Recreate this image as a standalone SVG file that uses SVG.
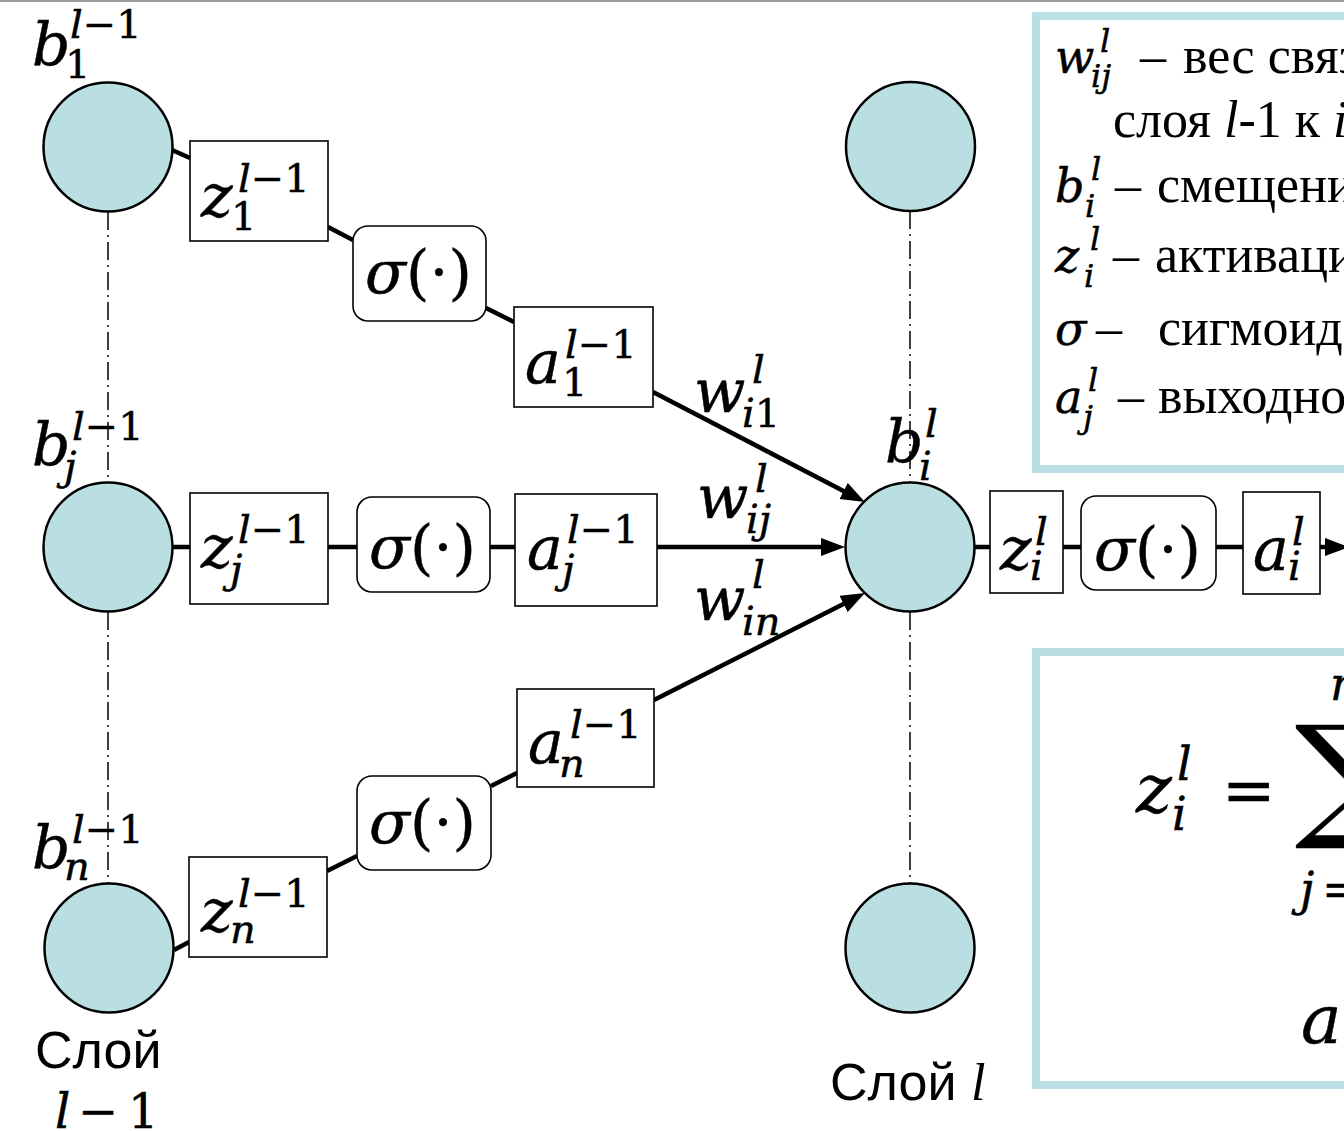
<svg xmlns="http://www.w3.org/2000/svg" width="1344" height="1131" viewBox="0 0 1344 1131">
  <style>
    .neuron { fill: #BADFE3; stroke: #000; stroke-width: 2.5; }
    .box { fill: #fff; stroke: #000; stroke-width: 1.6; }
    .link { stroke: #000; stroke-width: 4.5; fill: none; }
    .dd { stroke: #000; stroke-width: 1.5; stroke-dasharray: 18 5 2 5; fill: none; }
    .panel { fill: #fff; stroke: #BADFE3; stroke-width: 8; }
    .mi { font-family: "DejaVu Serif", "Liberation Serif", serif; font-style: italic; fill: #000; stroke: #000; stroke-width: 0.5; }
    .mu { font-family: "DejaVu Serif", "Liberation Serif", serif; font-style: normal; fill: #000; stroke: #000; stroke-width: 0.4; }
    .big { font-size: 60px; }
    .sc { font-size: 40px; }
    .lg { font-size: 46px; }
    .lgs { font-size: 32px; }
    .fb { font-size: 68px; }
    .fs { font-size: 46px; }
    .rm { font-family: "Liberation Serif", "Times New Roman", serif; font-size: 52px; fill: #000; }
    .rmi { font-family: "Liberation Serif", "Times New Roman", serif; font-style: italic; font-size: 52px; fill: #000; }
    .cap { font-family: "Liberation Sans", Arial, sans-serif; font-size: 52px; fill: #000; }
  </style>
  <defs>
    <marker id="arrow" markerUnits="userSpaceOnUse" markerWidth="26" markerHeight="20" refX="2" refY="9" orient="auto">
      <path d="M0,0 L24,9 L0,18 z" fill="#000"/>
    </marker>
  </defs>

  <rect x="0" y="0" width="1344" height="1131" fill="#fff"/>
  <line x1="0" y1="1" x2="1344" y2="1" stroke="#9a9a9a" stroke-width="2"/>

  <!-- legend panel -->
  <g id="legend">
    <rect class="panel" x="1036" y="16" width="420" height="453"/>
    <text class="mi lg" x="1055" y="73">w</text>
    <text class="mi lgs" x="1100" y="52">l</text>
    <text class="mi lgs" x="1091" y="87">ij</text>
    <text class="rm" x="1140" y="73">–</text>
    <text class="rm" x="1183" y="73">вес связи</text>
    <text class="rm" x="1113" y="137">слоя <tspan class="rmi">l</tspan>-1 к <tspan class="rmi">i</tspan></text>

    <text class="mi lg" x="1055" y="202">b</text>
    <text class="mi lgs" x="1091" y="180">l</text>
    <text class="mi lgs" x="1085" y="217">i</text>
    <text class="rm" x="1115" y="202">–</text>
    <text class="rm" x="1157" y="202">смещение</text>

    <text class="mi lg" x="1055" y="272">z</text>
    <text class="mi lgs" x="1090" y="250">l</text>
    <text class="mi lgs" x="1084" y="287">i</text>
    <text class="rm" x="1113" y="272">–</text>
    <text class="rm" x="1155" y="272">активация</text>

    <text class="mi lg" x="1055" y="345">σ</text>
    <text class="rm" x="1096" y="345">–</text>
    <text class="rm" x="1158" y="345">сигмоида</text>

    <text class="mi lg" x="1055" y="413">a</text>
    <text class="mi lgs" x="1088" y="391">l</text>
    <text class="mi lgs" x="1083" y="428">j</text>
    <text class="rm" x="1118" y="413">–</text>
    <text class="rm" x="1158" y="413">выходное</text>
  </g>

  <!-- formula panel -->
  <g id="formula">
    <rect class="panel" x="1036" y="652" width="420" height="433"/>
    <text class="mi fb" x="1136" y="812">z</text>
    <text class="mi fs" x="1177" y="780">l</text>
    <text class="mi fs" x="1172" y="830">i</text>
    <text class="mu" font-size="64" x="1222" y="812">=</text>
    <text class="mu" font-size="135" x="1295" y="822">∑</text>
    <text class="mi fs" x="1330" y="700">n</text>
    <text class="mi fs" x="1300" y="905">j</text>
    <text class="mu fs" x="1322" y="905">=</text>
    <text class="mi fb" x="1301" y="1043">a</text>
  </g>

  <!-- connectors -->
  <g id="connectors">
    <line class="dd" x1="108" y1="212" x2="108" y2="483"/>
    <line class="dd" x1="108" y1="612" x2="108" y2="884"/>
    <line class="dd" x1="910" y1="211" x2="910" y2="483"/>
    <line class="dd" x1="910" y1="612" x2="910" y2="884"/>

    <line class="link" x1="172" y1="150" x2="190" y2="158"/>
    <line class="link" x1="328" y1="227" x2="353" y2="240"/>
    <line class="link" x1="486" y1="308" x2="514" y2="322"/>
    <line class="link" x1="653" y1="392" x2="845.4" y2="491.9" marker-end="url(#arrow)"/>

    <line class="link" x1="172" y1="547" x2="190" y2="547"/>
    <line class="link" x1="328" y1="547" x2="357" y2="547"/>
    <line class="link" x1="490" y1="547" x2="515" y2="547"/>
    <line class="link" x1="657" y1="547" x2="823" y2="547" marker-end="url(#arrow)"/>

    <line class="link" x1="174" y1="950" x2="189" y2="942"/>
    <line class="link" x1="327" y1="871" x2="357" y2="856"/>
    <line class="link" x1="491" y1="786" x2="517" y2="773"/>
    <line class="link" x1="654" y1="700" x2="845.4" y2="603" marker-end="url(#arrow)"/>

    <line class="link" x1="975" y1="547" x2="990" y2="547"/>
    <line class="link" x1="1063" y1="547" x2="1081" y2="547"/>
    <line class="link" x1="1216" y1="547" x2="1243" y2="547"/>
    <line class="link" x1="1320" y1="547" x2="1327" y2="547" marker-end="url(#arrow)"/>
  </g>

  <!-- layer l-1 neurons -->
  <g id="n1">
    <circle class="neuron" cx="108" cy="147" r="64.5"/>
    <text class="mi big" x="32" y="65">b</text>
    <text class="mu sc" x="65" y="78">1</text>
    <text class="sc" x="70" y="38"><tspan class="mi">l</tspan><tspan class="mu">−1</tspan></text>
  </g>
  <g id="nj">
    <circle class="neuron" cx="108" cy="547" r="64.5"/>
    <text class="mi big" x="32" y="465">b</text>
    <text class="mi sc" x="64" y="480">j</text>
    <text class="sc" x="72" y="440"><tspan class="mi">l</tspan><tspan class="mu">−1</tspan></text>
  </g>
  <g id="nn">
    <circle class="neuron" cx="109" cy="948" r="64.5"/>
    <text class="mi big" x="32" y="868">b</text>
    <text class="mi sc" x="64" y="880">n</text>
    <text class="sc" x="72" y="843"><tspan class="mi">l</tspan><tspan class="mu">−1</tspan></text>
  </g>

  <!-- layer l neurons -->
  <g id="m1"><circle class="neuron" cx="910.5" cy="146.5" r="64.5"/></g>
  <g id="mi">
    <circle class="neuron" cx="910" cy="547" r="64.5"/>
    <text class="mi big" x="885" y="462">b</text>
    <text class="mi sc" x="925" y="437">l</text>
    <text class="mi sc" x="919" y="480">i</text>
  </g>
  <g id="mn"><circle class="neuron" cx="910" cy="948" r="64.5"/></g>

  <!-- row 1 chain -->
  <g id="z1">
    <rect class="box" x="190" y="141" width="138" height="100"/>
    <text class="mi big" x="201" y="217">z</text>
    <text class="mu sc" x="231" y="230">1</text>
    <text class="sc" x="238" y="192"><tspan class="mi">l</tspan><tspan class="mu">−1</tspan></text>
  </g>
  <g id="s1">
    <rect class="box" x="353" y="226" width="133" height="95" rx="15"/>
    <text class="big" x="365" y="293"><tspan class="mi">σ</tspan><tspan class="mu">(·)</tspan></text>
  </g>
  <g id="a1">
    <rect class="box" x="514" y="307" width="139" height="100"/>
    <text class="mi big" x="525" y="383">a</text>
    <text class="mu sc" x="562" y="396">1</text>
    <text class="sc" x="565" y="358"><tspan class="mi">l</tspan><tspan class="mu">−1</tspan></text>
  </g>

  <!-- row j chain -->
  <g id="zj">
    <rect class="box" x="190" y="493" width="138" height="111"/>
    <text class="mi big" x="201" y="568">z</text>
    <text class="mi sc" x="230" y="583">j</text>
    <text class="sc" x="238" y="543"><tspan class="mi">l</tspan><tspan class="mu">−1</tspan></text>
  </g>
  <g id="sj">
    <rect class="box" x="357" y="497" width="133" height="95" rx="15"/>
    <text class="big" x="369" y="568"><tspan class="mi">σ</tspan><tspan class="mu">(·)</tspan></text>
  </g>
  <g id="aj">
    <rect class="box" x="515" y="494" width="142" height="112"/>
    <text class="mi big" x="527" y="569">a</text>
    <text class="mi sc" x="562" y="583">j</text>
    <text class="sc" x="567" y="543"><tspan class="mi">l</tspan><tspan class="mu">−1</tspan></text>
  </g>

  <!-- row n chain -->
  <g id="zn">
    <rect class="box" x="189" y="857" width="138" height="100"/>
    <text class="mi big" x="201" y="932">z</text>
    <text class="mi sc" x="230" y="943">n</text>
    <text class="sc" x="238" y="907"><tspan class="mi">l</tspan><tspan class="mu">−1</tspan></text>
  </g>
  <g id="sn">
    <rect class="box" x="357" y="776" width="134" height="94" rx="15"/>
    <text class="big" x="369" y="843"><tspan class="mi">σ</tspan><tspan class="mu">(·)</tspan></text>
  </g>
  <g id="an">
    <rect class="box" x="517" y="689" width="137" height="98"/>
    <text class="mi big" x="528" y="763">a</text>
    <text class="mi sc" x="559" y="777">n</text>
    <text class="sc" x="570" y="738"><tspan class="mi">l</tspan><tspan class="mu">−1</tspan></text>
  </g>

  <!-- weights -->
  <g id="w1">
    <text class="mi big" x="694" y="412">w</text>
    <text class="mi sc" x="752" y="383">l</text>
    <text class="sc" x="742" y="427"><tspan class="mi">i</tspan><tspan class="mu">1</tspan></text>
  </g>
  <g id="wj">
    <text class="mi big" x="697" y="518">w</text>
    <text class="mi sc" x="755" y="492">l</text>
    <text class="mi sc" x="746" y="533">ij</text>
  </g>
  <g id="wn">
    <text class="mi big" x="694" y="620">w</text>
    <text class="mi sc" x="752" y="588">l</text>
    <text class="mi sc" x="742" y="635">in</text>
  </g>

  <!-- output chain of neuron i -->
  <g id="zi">
    <rect class="box" x="990" y="491" width="73" height="102"/>
    <text class="mi big" x="1000" y="570">z</text>
    <text class="mi sc" x="1035" y="545">l</text>
    <text class="mi sc" x="1030" y="580">i</text>
  </g>
  <g id="si">
    <rect class="box" x="1081" y="496" width="135" height="94" rx="15"/>
    <text class="big" x="1094" y="570"><tspan class="mi">σ</tspan><tspan class="mu">(·)</tspan></text>
  </g>
  <g id="ai">
    <rect class="box" x="1243" y="492" width="77" height="102"/>
    <text class="mi big" x="1253" y="570">a</text>
    <text class="mi sc" x="1292" y="545">l</text>
    <text class="mi sc" x="1288" y="580">i</text>
  </g>

  <!-- layer captions -->
  <g id="cap-prev">
    <text class="cap" x="35" y="1068">Слой</text>
    <text class="mi" font-size="48" x="55" y="1128">l</text>
    <text class="mu" font-size="48" x="78" y="1128">−</text>
    <text class="mu" font-size="48" x="128" y="1128">1</text>
  </g>
  <g id="cap-cur">
    <text class="cap" x="830" y="1100">Слой <tspan class="rmi" font-size="56">l</tspan></text>
  </g>
</svg>
